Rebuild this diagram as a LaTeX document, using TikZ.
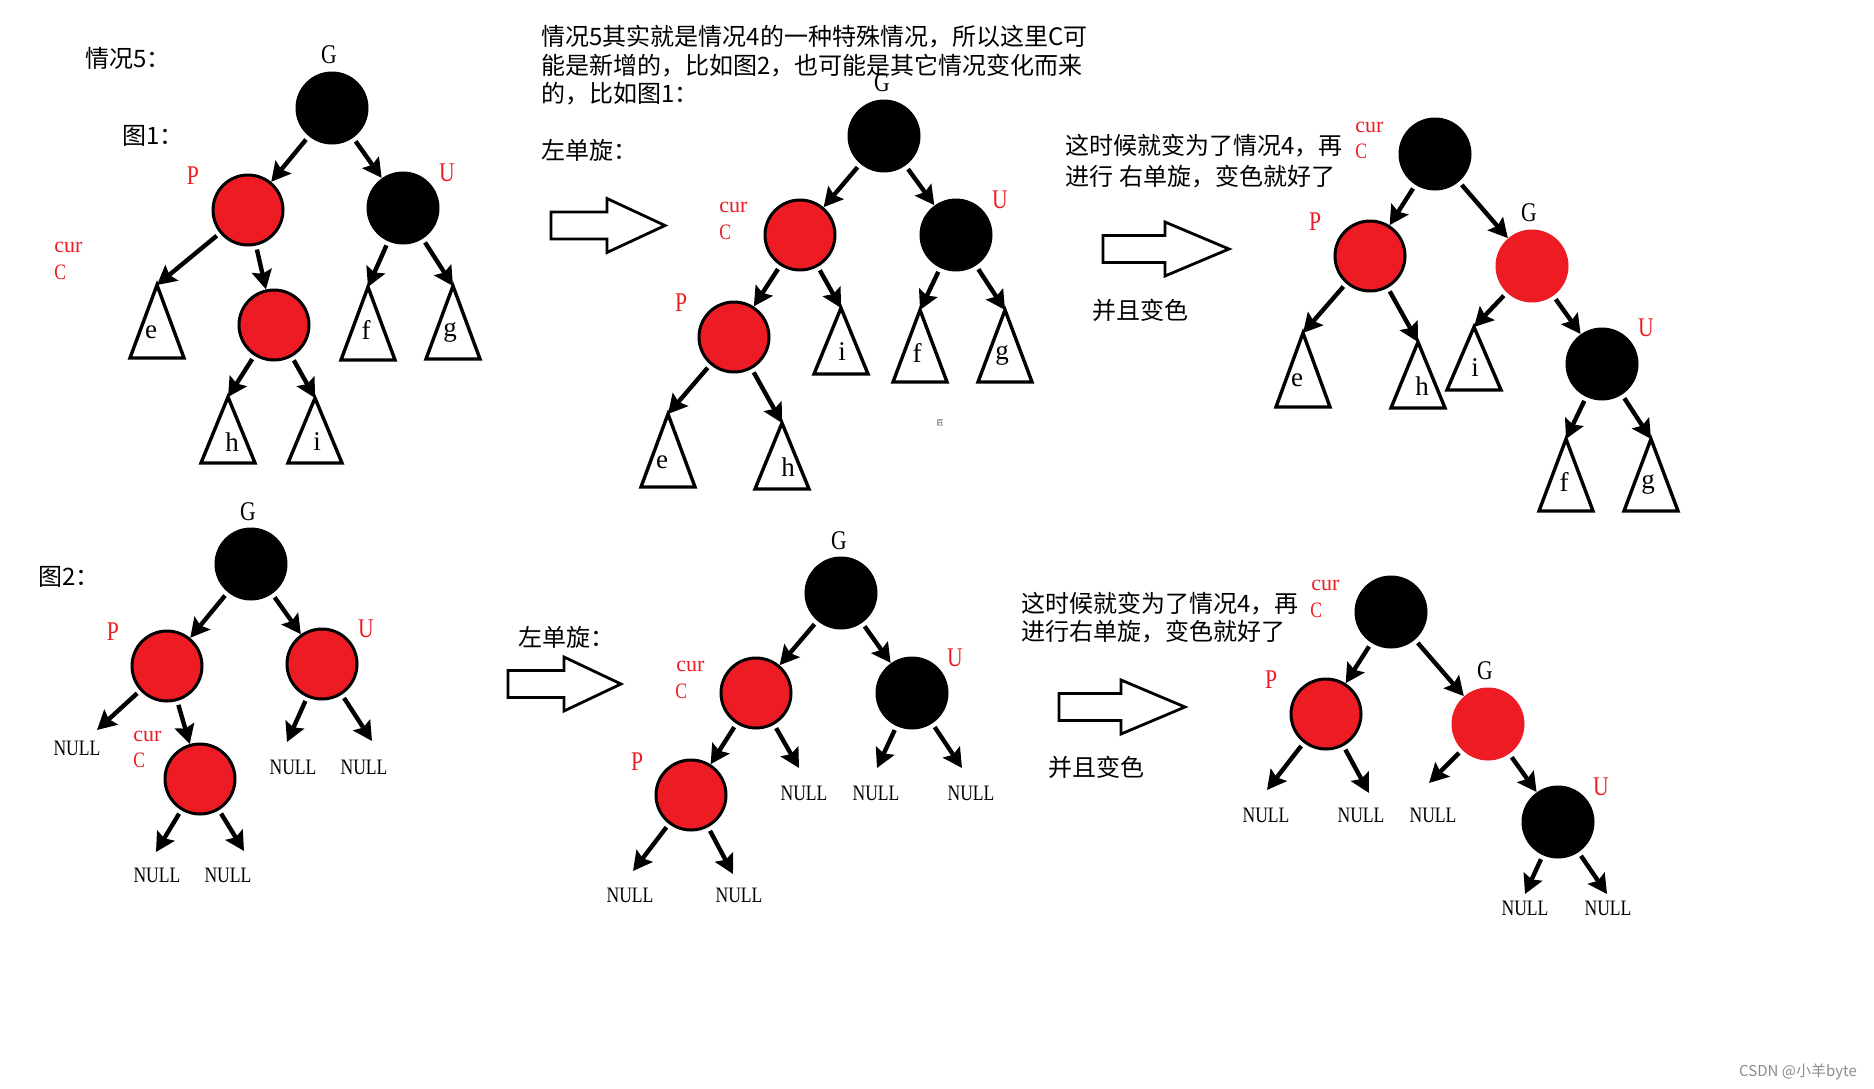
\documentclass[tikz,border=0pt]{standalone}
\usepackage{fontspec}
\setmainfont{Liberation Serif}
\newfontfamily\cjk{Noto Sans CJK SC}
\newfontfamily\nser[FakeStretch=0.8]{Liberation Serif}
\usetikzlibrary{arrows.meta}
\definecolor{pred}{RGB}{237,28,36}
\tikzset{
  bn/.style={circle, fill=black, minimum size=36.5pt, inner sep=0pt},
  rn/.style={circle, fill=pred, draw=black, line width=1.5pt, minimum size=35pt, inner sep=0pt},
  rnn/.style={circle, fill=pred, minimum size=36.5pt, inner sep=0pt},
  arr/.style={line width=2.2pt, -{Stealth[length=9.5pt,width=10pt,inset=1.5pt]}, shorten <=2pt},
  lab/.style={inner sep=0pt, font=\nser\fontsize{13.5}{13.5}\selectfont},
  rlab/.style={lab, text=pred},
  curl/.style={inner sep=0pt, text=pred, font=\fontsize{11}{11}\selectfont, anchor=west},
  ccl/.style={inner sep=0pt, text=pred, font=\nser\fontsize{11}{11}\selectfont, anchor=west},
  nul/.style={inner sep=0pt, font=\nser\fontsize{11}{11}\selectfont},
  tl/.style={inner sep=0pt, font=\fontsize{13.5}{13.5}\selectfont},
  tristyle/.style={draw, line width=1.7pt, fill=white, line join=miter},
  hol/.style={draw, line width=1.4pt, line join=miter, fill=white},
  zh/.style={inner sep=0pt, anchor=west, font=\cjk\fontsize{12}{12}\selectfont},
  zhc/.style={inner sep=0pt, font=\cjk\fontsize{12}{12}\selectfont},
}
% triangle: name, apex x, apex y, height, letter, label x, label y
\newcommand\tri[7]{%
  \draw[tristyle] (#2,#3) -- (#2-27,#3+#4) -- (#2+27,#3+#4) -- cycle;
  \coordinate (#1) at (#2,#3);
  \node[tl] (#1l) at (#6,#7) {#5};}
% hollow arrow: left x, center y, head base x, tip x
\newcommand\harrow[4]{%
  \draw[hol] (#1,#2-13.5) -- (#3,#2-13.5) -- (#3,#2-27) -- (#4,#2) -- (#3,#2+27) -- (#3,#2+13.5) -- (#1,#2+13.5) -- cycle;}
\begin{document}
\begin{tikzpicture}[x=0.5pt,y=-0.5pt]
\useasboundingbox (0,0) rectangle (1874,1088);
\fill[white] (0,0) rectangle (1874,1088);

%%%%%%%%%%%%%%%% Tree 1 (fig 1) %%%%%%%%%%%%%%%%
\node[zh] (t1a) at (85,58) {情况5：};
\node[zh] (t1b) at (122,136) {图1：};
\node[bn] (G1) at (332,108) {};
\node[rn] (P1) at (248,210) {};
\node[bn] (U1) at (403,208) {};
\node[rn] (C1) at (274,325) {};
\node[lab] (lG1) at (329,55) {G};
\node[rlab] (lP1) at (193,176) {P};
\node[rlab] (lU1) at (447,173) {U};
\node[curl] (lcur1) at (54,247) {cur};
\node[ccl] (lC1) at (54,272) {C};
\tri{e1}{157}{285}{73}{e}{151}{332}
\tri{h1}{228}{397}{66}{h}{232}{442}
\tri{i1}{315}{398}{65}{i}{317}{442}
\tri{f1}{368}{287}{73}{f}{366}{330}
\tri{g1}{453}{286}{73}{g}{450}{332}
\draw[arr] (G1) -- (P1);
\draw[arr] (G1) -- (U1);
\draw[arr] (P1) -- (e1);
\draw[arr] (P1) -- (C1);
\draw[arr] (U1) -- (f1);
\draw[arr] (U1) -- (g1);
\draw[arr] (C1) -- (h1);
\draw[arr] (C1) -- (i1);

%%%%%%%%%%%%%%%% Tree 2 (after left rotation) %%%%%%%%%%%%%%%%
\node[zh] (p1) at (541,37) {情况5其实就是情况4的一种特殊情况，所以这里C可};
\node[zh] (p2) at (541,65.5) {能是新增的，比如图2，也可能是其它情况变化而来};
\node[zh] (p3) at (541,94) {的，比如图1：};
\node[zh] (p4) at (541,150) {左单旋：};
\harrow{551}{225.5}{607}{665}
\node[bn] (G2) at (884,136) {};
\node[rn] (C2) at (800,235) {};
\node[bn] (U2) at (956,235) {};
\node[rn] (P2) at (734,337) {};
\node[lab] (lG2) at (882,83) {G};
\node[curl] (lcur2) at (719,207) {cur};
\node[ccl] (lC2) at (719,232) {C};
\node[rlab] (lU2) at (1000,200) {U};
\node[rlab] (lP2) at (681,303) {P};
\tri{i2}{841}{308}{66}{i}{842}{352}
\tri{f2}{920}{310}{72}{f}{917}{353}
\tri{g2}{1005}{310}{72}{g}{1002}{355}
\tri{e2}{668}{414}{73}{e}{662}{462}
\tri{h2}{782}{423}{66}{h}{788}{467}
\node[inner sep=0pt, text=black!70, font=\cjk\fontsize{3.5}{3.5}\selectfont] (art) at (940,423) {匠};
\draw[arr] (G2) -- (C2);
\draw[arr] (G2) -- (U2);
\draw[arr] (C2) -- (P2);
\draw[arr] (C2) -- (i2);
\draw[arr] (U2) -- (f2);
\draw[arr] (U2) -- (g2);
\draw[arr] (P2) -- (e2);
\draw[arr] (P2) -- (h2);

%%%%%%%%%%%%%%%% Tree 3 (after right rotation) %%%%%%%%%%%%%%%%
\node[zh] (q1) at (1065,146) {这时候就变为了情况4，再};
\node[zh] (q2) at (1065,177) {进行\hspace{0.25em}右单旋，变色就好了};
\node[zhc] (q3) at (1140,310) {并且变色};
\harrow{1103}{249}{1165}{1229}
\node[bn] (C3) at (1435,154) {};
\node[rn] (P3) at (1370,256) {};
\node[rnn] (G3) at (1532,266) {};
\node[bn] (U3) at (1602,364) {};
\node[curl] (lcur3) at (1355,127) {cur};
\node[ccl] (lC3) at (1355,151) {C};
\node[rlab] (lP3) at (1315,222) {P};
\node[lab] (lG3) at (1529,213) {G};
\node[rlab] (lU3) at (1646,328) {U};
\tri{e3}{1303}{333}{74}{e}{1297}{380}
\tri{h3}{1418}{342}{66}{h}{1422}{386}
\tri{i3}{1474}{327}{63}{i}{1475}{368}
\tri{f3}{1566}{439}{72}{f}{1564}{482}
\tri{g3}{1651}{439}{72}{g}{1648}{484}
\draw[arr] (C3) -- (P3);
\draw[arr] (C3) -- (G3);
\draw[arr] (P3) -- (e3);
\draw[arr] (P3) -- (h3);
\draw[arr] (G3) -- (i3);
\draw[arr] (G3) -- (U3);
\draw[arr] (U3) -- (f3);
\draw[arr] (U3) -- (g3);

%%%%%%%%%%%%%%%% Tree 4 (fig 2) %%%%%%%%%%%%%%%%
\node[zh] (t4) at (38,577) {图2：};
\node[bn] (G4) at (251,564) {};
\node[rn] (P4) at (167,666) {};
\node[rn] (U4) at (322,664) {};
\node[rn] (C4) at (200,779) {};
\node[lab] (lG4) at (248,512) {G};
\node[rlab] (lP4) at (113,632) {P};
\node[rlab] (lU4) at (366,629) {U};
\node[curl] (lcur4) at (133,736) {cur};
\node[ccl] (lC4) at (133,760) {C};
\node[nul] (n4a) at (77,748) {NULL};
\node[nul] (n4b) at (293,767) {NULL};
\node[nul] (n4c) at (364,767) {NULL};
\node[nul] (n4d) at (157,875) {NULL};
\node[nul] (n4e) at (228,875) {NULL};
\draw[arr] (G4) -- (P4);
\draw[arr] (G4) -- (U4);
\draw[arr] (P4) -- ([shift={(20,-18)}]n4a.center);
\draw[arr] (P4) -- (C4);
\draw[arr] (U4) -- ([shift={(-6,-25)}]n4b.center);
\draw[arr] (U4) -- ([shift={(8,-26)}]n4c.center);
\draw[arr] (C4) -- ([shift={(-1,-23)}]n4d.center);
\draw[arr] (C4) -- ([shift={(16,-24)}]n4e.center);

%%%%%%%%%%%%%%%% Tree 5 (fig 2 after left rotation) %%%%%%%%%%%%%%%%
\node[zh] (t5) at (518,637) {左单旋：};
\harrow{508}{684}{564}{621}
\node[bn] (G5) at (841,593) {};
\node[rn] (C5) at (756,693) {};
\node[bn] (U5) at (912,693) {};
\node[rn] (P5) at (691,795) {};
\node[lab] (lG5) at (839,541) {G};
\node[curl] (lcur5) at (676,666) {cur};
\node[ccl] (lC5) at (675,691) {C};
\node[rlab] (lU5) at (955,658) {U};
\node[rlab] (lP5) at (637,762) {P};
\node[nul] (n5a) at (804,793) {NULL};
\node[nul] (n5b) at (876,793) {NULL};
\node[nul] (n5c) at (971,793) {NULL};
\node[nul] (n5d) at (630,895) {NULL};
\node[nul] (n5e) at (739,895) {NULL};
\draw[arr] (G5) -- (C5);
\draw[arr] (G5) -- (U5);
\draw[arr] (C5) -- (P5);
\draw[arr] (C5) -- ([shift={(-5,-25)}]n5a.center);
\draw[arr] (U5) -- ([shift={(1,-25)}]n5b.center);
\draw[arr] (U5) -- ([shift={(-9,-25)}]n5c.center);
\draw[arr] (P5) -- ([shift={(3,-24)}]n5d.center);
\draw[arr] (P5) -- ([shift={(-6,-21)}]n5e.center);

%%%%%%%%%%%%%%%% Tree 6 (fig 2 after right rotation) %%%%%%%%%%%%%%%%
\node[zh] (r1) at (1021,604) {这时候就变为了情况4，再};
\node[zh] (r2) at (1021,632) {进行右单旋，变色就好了};
\node[zhc] (r3) at (1096,767) {并且变色};
\harrow{1059}{707}{1121}{1185}
\node[bn] (C6) at (1391,612) {};
\node[rn] (P6) at (1326,714) {};
\node[rnn] (G6) at (1488,724) {};
\node[bn] (U6) at (1558,822) {};
\node[curl] (lcur6) at (1311,585) {cur};
\node[ccl] (lC6) at (1310,610) {C};
\node[rlab] (lP6) at (1271,680) {P};
\node[lab] (lG6) at (1485,671) {G};
\node[rlab] (lU6) at (1601,787) {U};
\node[nul] (n6a) at (1266,815) {NULL};
\node[nul] (n6b) at (1361,815) {NULL};
\node[nul] (n6c) at (1433,815) {NULL};
\node[nul] (n6d) at (1525,908) {NULL};
\node[nul] (n6e) at (1608,908) {NULL};
\draw[arr] (C6) -- (P6);
\draw[arr] (C6) -- (G6);
\draw[arr] (P6) -- ([shift={(1,-25)}]n6a.center);
\draw[arr] (P6) -- ([shift={(8,-22)}]n6b.center);
\draw[arr] (G6) -- ([shift={(-4,-32)}]n6c.center);
\draw[arr] (G6) -- (U6);
\draw[arr] (U6) -- ([shift={(0,-14)}]n6d.center);
\draw[arr] (U6) -- ([shift={(-1,-14)}]n6e.center);

%%%%%%%%%%%%%%%% watermark %%%%%%%%%%%%%%%%
\node[inner sep=0pt, text=black!45, font=\cjk\fontsize{7.5}{7.5}\selectfont] (wm) at (1798,1072) {CSDN @小羊byte};
\end{tikzpicture}
\end{document}
